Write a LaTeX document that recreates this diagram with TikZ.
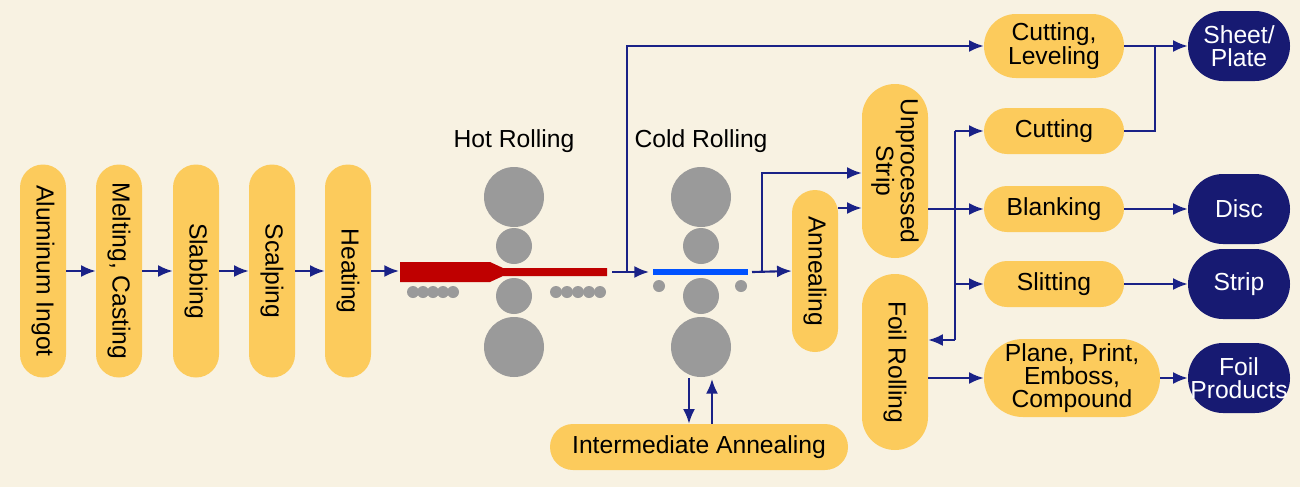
\documentclass[tikz,border=0pt]{standalone}
\usepackage{fontspec}
\setmainfont{Liberation Sans}
\usetikzlibrary{arrows.meta}
\definecolor{bg}{HTML}{F8F2E2}
\definecolor{pillc}{HTML}{FCCB5C}
\definecolor{navy}{HTML}{171A72}
\definecolor{arr}{HTML}{1A2287}
\definecolor{roll}{HTML}{9A9A9A}
\begin{document}
\begin{tikzpicture}[x=0.75pt,y=-0.75pt,
  pill/.style n args={3}{draw=none,fill=pillc,minimum width=#1*0.75pt,minimum height=#2*0.75pt,rounded corners=#3*0.75pt,inner sep=0pt,align=center,font=\fontsize{18.5}{17}\selectfont},
  dark/.style n args={3}{pill={#1}{#2}{#3},fill=navy,text=white},
  vpill/.style n args={3}{pill={#1}{#2}{#3},rotate=-90},
  ar/.style={draw=arr,line width=1.6pt,-{Latex[length=11pt,width=9pt]}},
  ln/.style={draw=arr,line width=1.6pt},
  rl/.style={fill=roll,draw=none},
  lab/.style={font=\fontsize{18.5}{20}\selectfont}]
\fill[bg] (0,0) rectangle (1300,487);
% left column
\node[vpill={213}{46}{23}] (alu) at (43,271) {Aluminum Ingot};
\node[vpill={213}{46}{23}] (mel) at (119,271) {Melting, Casting};
\node[vpill={213}{46}{23}] (sla) at (196,271) {Slabbing};
\node[vpill={213}{46}{23}] (sca) at (272,271) {Scalping};
\node[vpill={213}{46}{23}] (hea) at (348,271) {Heating};
\draw[ar] (alu.north) -- (mel.south);
\draw[ar] (mel.north) -- (sla.south);
\draw[ar] (sla.north) -- (sca.south);
\draw[ar] (sca.north) -- (hea.south);
\coordinate (hin) at (399,271);
\draw[ar] (hea.north) -- (hin);
% hot rolling
\node[lab] (hrl) at (514,141) {Hot Rolling};
\fill[rl] (514,197) circle (30) (514,347) circle (30) (514,246) circle (18) (514,296) circle (18);
\foreach \x in {413,423,433,443,453} \fill[rl] (\x,292) circle (6);
\foreach \x in {556,567,578,589,600} \fill[rl] (\x,292) circle (6);
\fill[red!75!black] (400,262) -- (490,262) -- (503,268) -- (607,268) -- (607,276) -- (503,276) -- (490,282) -- (400,282) -- cycle;
% cold rolling
\node[lab] (crl) at (701,141) {Cold Rolling};
\fill[rl] (701,197) circle (30) (701,347) circle (30) (701,246) circle (18) (701,296) circle (18);
\fill[rl] (659,286) circle (6) (741,286) circle (6);
\fill[blue!60!cyan!80!blue] (653,269) rectangle (748,275);
\coordinate (h1) at (612,272);
\coordinate (c0) at (649,272);
\draw[ar] (h1) -- (c0);
% annealing etc
\node[vpill={162}{46}{23}] (ann) at (815,271) {Annealing};
\node[vpill={174}{66}{33}] (unp) at (895,171) {Unprocessed\\Strip};
\node[vpill={176}{66}{33}] (foil) at (895,362) {Foil Rolling};
\node[pill={298}{46}{23}] (int) at (699,447) {Intermediate Annealing};
\coordinate (c1) at (752,272);
\draw[ar] (c1) -- (ann.south);
\draw[ar] (762,272) |- (unp.south |- 0,173);
\draw[ar] (ann.north |- 0,208) -- (unp.south |- 0,208);
\draw[ar] (689,378) -- (int.north -| 689,0);
\draw[ar] (int.north -| 712,0) -- (712,379);
% right
\node[pill={140}{64}{32}] (cl) at (1054,46) {Cutting,\\Leveling};
\node[pill={140}{46}{23}] (cut) at (1054,131) {Cutting};
\node[pill={140}{46}{23}] (bla) at (1054,209) {Blanking};
\node[pill={140}{46}{23}] (sli) at (1054,284) {Slitting};
\node[pill={176}{78}{39}] (ppe) at (1072,378) {Plane, Print,\\Emboss,\\Compound};
\node[dark={102}{70}{35}] (she) at (1239,46) {Sheet/\\Plate};
\node[dark={102}{70}{35}] (dis) at (1239,209) {Disc};
\node[dark={102}{70}{35}] (str) at (1239,284) {Strip};
\node[dark={102}{70}{35}] (fpr) at (1239,378) {Foil\\Products};
\draw[ar] (627,272) |- (cl.west);
\draw[ar] (cl.east) -- (she.west);
\draw[ln] (cut.east) -| (1155,46);
\draw[ar] (unp.north |- 0,209) -- (bla.west);
\draw[ln] (955,131) -- (955,340);
\draw[ar] (955,131) -- (cut.west);
\draw[ar] (955,284) -- (sli.west);
\draw[ar] (955,340) -- (foil.north |- 0,340);
\draw[ar] (bla.east) -- (dis.west);
\draw[ar] (sli.east) -- (str.west);
\draw[ar] (foil.north |- 0,378) -- (ppe.west);
\draw[ar] (ppe.east) -- (fpr.west);
\end{tikzpicture}
\end{document}
